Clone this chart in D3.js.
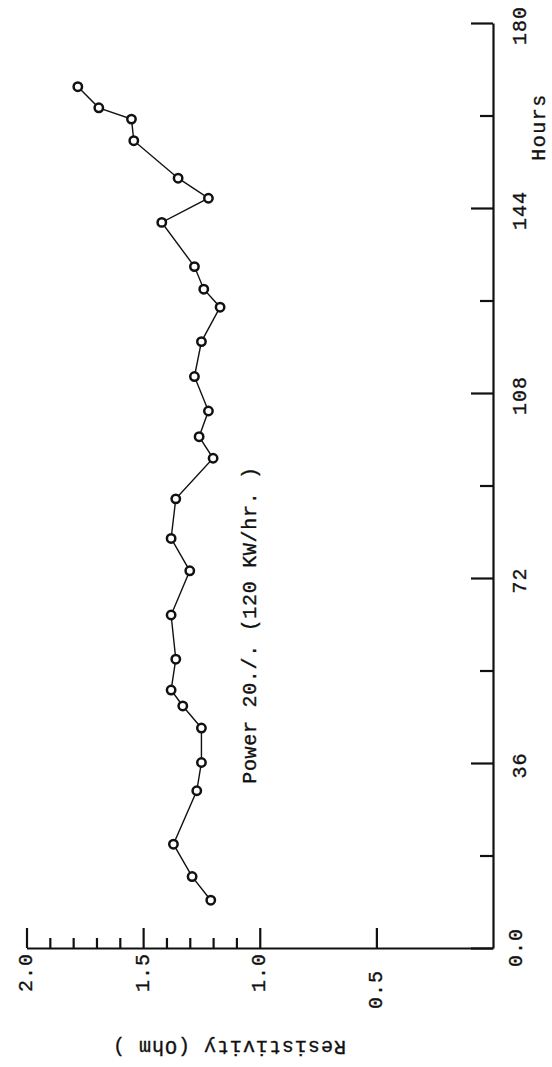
<!DOCTYPE html>
<html>
<head>
<meta charset="utf-8">
<script src="https://cdn.jsdelivr.net/npm/d3@7"></script>
<style>
  html, body { margin: 0; padding: 0; background: #fff; }
  svg { display: block; }
  text { font-family: "Liberation Mono", "DejaVu Sans Mono", monospace; fill: #111; stroke: #111; stroke-width: 0.35px; }
</style>
</head>
<body>
<svg id="chart" width="552" height="1067"></svg>
<script>
// ---- data ----
const hours = [9.3, 13.9, 20.2, 30.6, 36.1, 42.8, 47.1, 50.2, 56.2, 64.8, 73.4, 79.7, 87.4, 95.3,
               99.5, 104.5, 111.2, 118.0, 124.7, 128.2, 132.6, 141.2, 145.9, 149.8, 157.1, 161.3, 163.5, 167.6];
const resistivity = [1.21, 1.29, 1.37, 1.27, 1.25, 1.25, 1.33, 1.38, 1.36, 1.38, 1.30, 1.38, 1.36, 1.20,
                     1.26, 1.22, 1.28, 1.25, 1.17, 1.24, 1.28, 1.42, 1.22, 1.35, 1.54, 1.55, 1.69, 1.78];
const hourTicks = [0, 36, 72, 108, 144, 180];
const hourMinorTicks = [18, 54, 90, 126, 162];
const hourTickLabels = ["0.0", "36", "72", "108", "144", "180"];
const resTicks = [0.5, 1.0, 1.5, 2.0];
const resMinorTicks = [1.1, 1.2, 1.3, 1.4, 1.6, 1.7, 1.8, 1.9];
const resTickLabels = ["0.5", "1.0", "1.5", "2.0"];
const hoursTitle = "Hours";
const resTitle = "Resistivity  (Ohm )";
const annotation = "Power 20./. (120 KW/hr. )";

// ---- layout ----
const svg = d3.select("#chart");
const ink = "#111";
const font = "20px";
const axisX = 493, axisY = 948;

const hScale = d3.scaleLinear().domain([0, 180]).range([948, 23]);
const rScale = d3.scaleLinear().domain([0, 2]).range([493, 26.5]);

function styleAxis(g) {
  g.selectAll("path, line").attr("stroke", ink).attr("stroke-width", 2.2);
  g.attr("font-family", null).attr("font-size", null);
}

// Hours axis (vertical, on the right), major ticks
const hAxis = d3.axisRight(hScale)
  .tickValues(hourTicks)
  .tickSizeInner(-22)
  .tickSizeOuter(0)
  .tickFormat((d, i) => hourTickLabels[i]);
const gH = svg.append("g").attr("transform", `translate(${axisX},0)`).call(hAxis).call(styleAxis);
gH.selectAll("text")
  .attr("x", null)
  .attr("dy", "0.35em")
  .attr("text-anchor", "middle")
  .attr("transform", d => `translate(${d === 0 ? 22 : 26},${d === 0 ? -1 : 2}) rotate(-90)`)
  .style("font-size", font)
  .style("letter-spacing", "1px");

// Hours minor ticks
svg.append("g").attr("transform", `translate(${axisX},0)`)
  .call(d3.axisRight(hScale).tickValues(hourMinorTicks).tickSizeInner(-13).tickSizeOuter(0).tickFormat(""))
  .call(styleAxis)
  .call(g => g.select(".domain").remove());

// Resistivity axis (horizontal, at the bottom), major ticks
const rAxis = d3.axisBottom(rScale)
  .tickValues(resTicks)
  .tickSizeInner(-20)
  .tickSizeOuter(0)
  .tickFormat((d, i) => resTickLabels[i]);
const gR = svg.append("g").attr("transform", `translate(0,${axisY})`).call(rAxis).call(styleAxis);
gR.selectAll("text")
  .attr("y", null)
  .attr("dy", "0.35em")
  .attr("text-anchor", "end")
  .attr("transform", d => `translate(-2,${d === 0.5 ? 22 : 5}) rotate(-90)`)
  .style("font-size", font)
  .style("letter-spacing", "1px");

// Resistivity minor ticks
svg.append("g").attr("transform", `translate(0,${axisY})`)
  .call(d3.axisBottom(rScale).tickValues(resMinorTicks).tickSizeInner(-10).tickSizeOuter(0).tickFormat(""))
  .call(styleAxis)
  .call(g => g.select(".domain").remove());

// Axis titles
svg.append("text")
  .attr("transform", "translate(538,127) rotate(-90)")
  .attr("text-anchor", "middle").attr("dy", "0.35em")
  .style("font-size", font).style("letter-spacing", "1.5px")
  .text(hoursTitle);

svg.append("text")
  .attr("transform", "translate(229,1048) rotate(180)")
  .attr("text-anchor", "middle").attr("dy", "0.35em")
  .style("font-size", font).style("letter-spacing", "1px")
  .text(resTitle);

// Annotation
svg.append("text")
  .attr("transform", "translate(249,625) rotate(-90)")
  .attr("text-anchor", "middle").attr("dy", "0.35em")
  .style("font-size", font).style("letter-spacing", "0.7px")
  .text(annotation);

// Data line and markers
const idx = d3.range(hours.length);
const line = d3.line()
  .x(i => rScale(resistivity[i]))
  .y(i => hScale(hours[i]));
svg.append("path")
  .attr("d", line(idx))
  .attr("fill", "none")
  .attr("stroke", ink)
  .attr("stroke-width", 1.4);

svg.append("g").selectAll("circle")
  .data(idx)
  .join("circle")
  .attr("cx", i => rScale(resistivity[i]))
  .attr("cy", i => hScale(hours[i]))
  .attr("r", 4.2)
  .attr("fill", "#fff")
  .attr("stroke", ink)
  .attr("stroke-width", 2.5);
</script>
</body>
</html>
